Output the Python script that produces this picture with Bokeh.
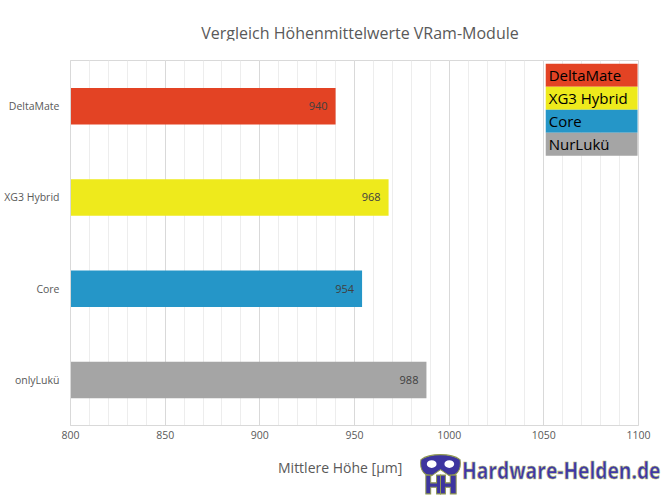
from bokeh.plotting import figure
from bokeh.models import SingleIntervalTicker, Label, Range1d, BoxAnnotation, Div
from bokeh.layouts import column
from bokeh.core.properties import value
from bokeh.embed import file_html
from bokeh.resources import INLINE

# data
modules = ["DeltaMate", "XG3 Hybrid", "Core", "onlyLukü"]
legend_names = ["DeltaMate", "XG3 Hybrid", "Core", "NurLukü"]
heights = [940, 968, 954, 988]
colors = ["#E34324", "#EEEA1C", "#2596C8", "#A5A5A5"]
title = "Vergleich Höhenmittelwerte VRam-Module"
x_label = "Mittlere Höhe [µm]"
site = "Hardware-Helden.de"

FONT = "Open Sans"

# title line above the chart
header = Div(
    width=662, height=40, margin=0,
    text=(
        '<div style="position:relative;width:662px;height:40px;font-family:\'Open Sans\';">'
        f'<div style="position:absolute;left:0px;top:22px;width:720px;text-align:center;'
        f'font-size:16px;line-height:22px;color:#595959;white-space:nowrap;">{title}</div>'
        '</div>'
    ),
)

p = figure(
    y_range=list(reversed(modules)),
    x_range=Range1d(800, 1100),
    frame_width=568,
    frame_height=365,
    toolbar_location=None,
    tools="",
    output_backend="svg",
    min_border_left=70,
    min_border_right=20,
    min_border_top=20,
    min_border_bottom=28,
)

for name, h, c in zip(modules, heights, colors):
    p.hbar(y=[name], left=800, right=[h], height=0.4, color=c, line_color=None)

p.text(x=heights, y=modules, text=[str(h) for h in heights],
       text_align="right", text_baseline="middle", x_offset=-8,
       text_font=value(FONT), text_font_size="11px", text_color="#404040")

# grid
p.xaxis.ticker = SingleIntervalTicker(interval=50, num_minor_ticks=5)
p.xgrid.grid_line_color = "#d9d9d9"
p.xgrid.minor_grid_line_color = "#ededed"
p.ygrid.grid_line_color = None
p.outline_line_color = "#d9d9d9"

# axes
for ax in (p.xaxis, p.yaxis):
    ax.axis_line_color = "#d9d9d9"
    ax.major_tick_line_color = None
    ax.minor_tick_line_color = None
    ax.major_tick_out = 0
    ax.minor_tick_out = 0
    ax.major_label_text_font = FONT
    ax.major_label_text_font_size = "10.5px"
    ax.major_label_text_color = "#595959"
p.xaxis.major_label_standoff = 5
p.yaxis.major_label_standoff = 11

# legend: coloured boxes with the name on top (top right of the plot area)
top = 4 - 0.035
step = 0.252
for i, (n, c) in enumerate(zip(legend_names, colors)):
    t = top - i * step
    p.add_layout(BoxAnnotation(left=1051, right=1099.5, top=t, bottom=t - step,
                               fill_color=c, fill_alpha=1, line_color=None))
    p.add_layout(Label(x=1051, y=t - step / 2, x_offset=3, text=n,
                       text_baseline="middle", text_font=FONT,
                       text_font_size="15px", text_color="#000000"))

# axis title and site logo on one line below the chart
mask = (
    '<svg style="position:absolute;left:418px;top:0px" width="45" height="42" '
    'viewBox="0 0 46 38" preserveAspectRatio="none">'
    '<path d="M3,6 C12,0 34,0 43,6 C45,16 38,22 31,20 L23,15 L15,20 C8,22 1,16 3,6 Z" '
    'fill="#3d359f" stroke="#8f9850" stroke-width="1"/>'
    '<ellipse cx="14" cy="10" rx="5" ry="3.5" fill="#ffffff"/>'
    '<ellipse cx="32" cy="10" rx="5" ry="3.5" fill="#ffffff"/>'
    '<path d="M8,20 L13,20 L13,27 L19,27 L19,20 L23,20 L23,37 L19,37 L19,31 L13,31 L13,37 L8,37 Z" '
    'fill="#3d359f" stroke="#8f9850" stroke-width="1"/>'
    '<path d="M23,20 L28,20 L28,27 L33,27 L33,20 L39,20 L39,37 L33,37 L33,31 L28,31 L28,37 L23,37 Z" '
    'fill="#3d359f" stroke="#8f9850" stroke-width="1"/>'
    '</svg>'
)
footer = Div(
    width=662, height=44, margin=0,
    text=(
        '<div style="position:relative;width:662px;height:44px;font-family:\'Open Sans\';">'
        f'<span style="position:absolute;left:278px;top:5px;font-size:14px;'
        f'line-height:19px;color:#595959;white-space:nowrap;">{x_label}</span>'
        + mask +
        f'<span style="position:absolute;left:462px;top:5px;font-size:24px;line-height:24px;'
        f'font-weight:bold;color:#3f37a8;white-space:nowrap;display:inline-block;'
        f'transform:scaleX(0.80);transform-origin:left center;'
        f'-webkit-text-stroke:0.6px #b8c070;">{site}</span>'
        '</div>'
    ),
)

layout = column(header, p, footer, spacing=0)

open("out.html", "w").write(file_html(layout, INLINE))
